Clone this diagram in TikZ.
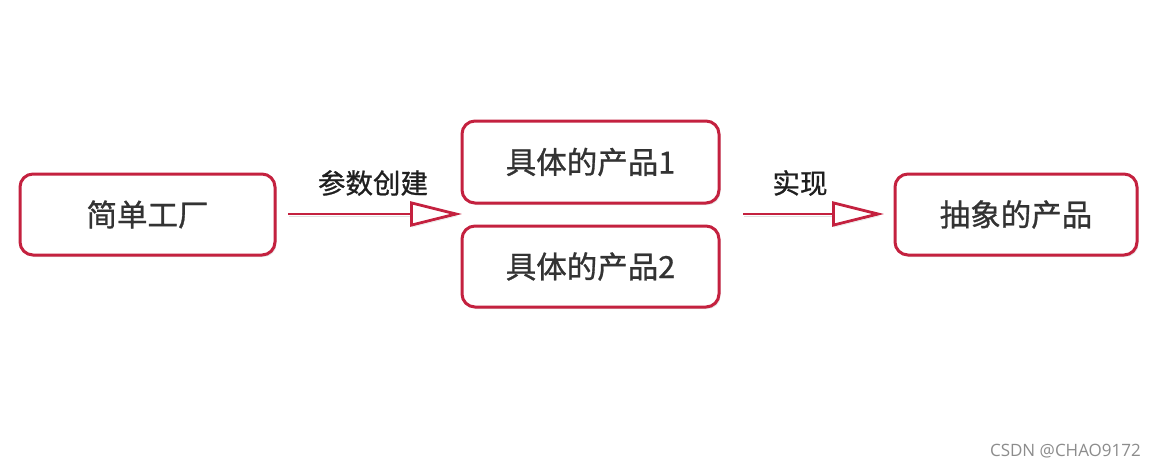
\documentclass[tikz,border=0pt]{standalone}
\usepackage{fontspec}
\setmainfont{Noto Sans CJK SC}
\newfontfamily\cjkmed{Noto Sans CJK SC}[FakeBold=0.9]
\newfontfamily\wmfont{Open Sans}
\usetikzlibrary{arrows.meta,shadows}
\definecolor{boxred}{HTML}{C4213F}
\definecolor{txtgray}{HTML}{333333}
\tikzset{
  box/.style={draw=boxred, line width=3pt, rounded corners=13pt, fill=white,
    text=txtgray, font=\cjkmed\fontsize{30.5}{34}\selectfont,
    drop shadow={opacity=0.2, shadow xshift=1.5pt, shadow yshift=-2pt}},
  conn/.style={draw=boxred, line width=2.8pt,
    -{Triangle[length=52pt, width=25pt, fill=white, line width=2.8pt]},
    preaction={draw=black, opacity=0.12, transform canvas={xshift=1pt,yshift=-2pt}}},
  lbl/.style={text=black!88, font=\cjkmed\fontsize{27.5}{30}\selectfont, inner sep=0pt},
}
\begin{document}
\begin{tikzpicture}[x=1pt,y=-1pt]
\useasboundingbox[fill=white] (0,0) rectangle (1154,469);
\node[box, minimum width=255pt, minimum height=81pt] (sf) at (147.5,214.5) {简单工厂};
\node[box, minimum width=257pt, minimum height=82pt] (p1) at (590.5,162) {具体的产品1};
\node[box, minimum width=257pt, minimum height=81pt] (p2) at (590.5,266.5) {具体的产品2};
\node[box, minimum width=242pt, minimum height=81pt] (ap) at (1016,214.5) {抽象的产品};
\coordinate (a1s) at (288,214);
\coordinate (a1e) at (462,214);
\coordinate (a2s) at (743,214);
\coordinate (a2e) at (884,214);
\draw[conn] (a1s) -- (a1e);
\draw[conn] (a2s) -- (a2e);
\node[lbl] (l1) at (373,183) {参数创建};
\node[lbl] (l2) at (800,183) {实现};
\node[text=black!45, font=\wmfont\fontsize{17}{20}\selectfont, anchor=east, inner sep=0pt] (wm) at (1141,451) {CSDN @CHAO9172};
\end{tikzpicture}
\end{document}
